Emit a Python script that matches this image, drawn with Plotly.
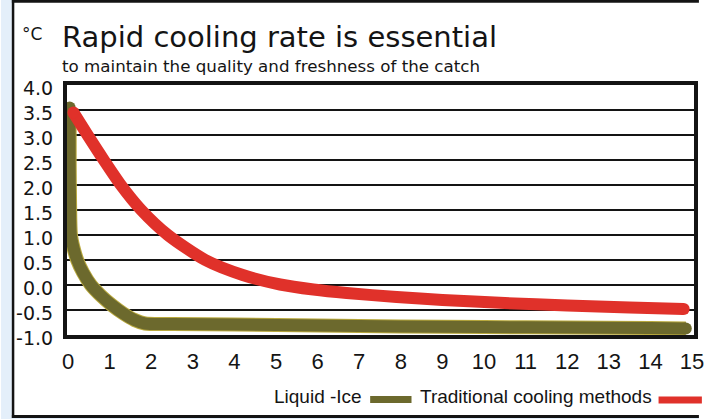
import plotly.graph_objects as go

# ---------------- data ----------------
unit_label = "°C"
title_text = "Rapid cooling rate is essential"
subtitle_text = "to maintain the quality and freshness of the catch"

x_tick_values = list(range(0, 16))
y_tick_values = [4.0, 3.5, 3.0, 2.5, 2.0, 1.5, 1.0, 0.5, 0.0, -0.5, -1.0]
y_tick_labels = ["4.0", "3.5", "3.0", "2.5", "2.0", "1.5", "1.0", "0.5", "0.0", "-0.5", "-1.0"]

liquid_ice_name = "Liquid -Ice"
liquid_ice_x = [0.04, 0.04, 0.05, 0.07, 0.13, 0.22, 0.36, 0.55, 0.8, 1.05, 1.33, 1.6, 1.85,
                2.5, 4.0, 6.0, 8.0, 10.0, 12.0, 14.0, 14.85]
liquid_ice_y = [3.55, 2.5, 1.6, 1.0, 0.75, 0.5, 0.25, 0.0, -0.22, -0.4, -0.57, -0.70, -0.77,
                -0.78, -0.79, -0.81, -0.83, -0.84, -0.85, -0.86, -0.87]

traditional_name = "Traditional cooling methods"
traditional_x = [0.13, 0.47, 0.86, 1.27, 1.76, 2.4, 3.3, 4.2, 5.1, 5.9, 6.7, 7.9, 9.0,
                 10.5, 12.0, 13.5, 14.8]
traditional_y = [3.45, 3.0, 2.5, 2.0, 1.5, 1.0, 0.5, 0.2, 0.01, -0.09, -0.16, -0.24, -0.30,
                 -0.36, -0.41, -0.45, -0.48]

# ---------------- styles ----------------
W, H = 709, 419
L, R, T, B = 67, 5, 85, 84
PW, PH = W - L - R, H - T - B
OLIVE = "#6c692d"
OLIVE_EDGE = "#b9a93e"
RED = "#e0312a"
BLUE_BG = "#e4effa"
INK = "#141414"


def px(xp):
    return (xp - L) / PW


def py(yp):
    return (H - B - yp) / PH


fig = go.Figure()

# Liquid-ice curve (edge underlay + main)
fig.add_trace(go.Scatter(x=liquid_ice_x, y=liquid_ice_y, mode="lines",
                         line=dict(color=OLIVE_EDGE, width=14, shape="spline", smoothing=0.7),
                         hoverinfo="skip", showlegend=False))
fig.add_trace(go.Scatter(x=liquid_ice_x, y=liquid_ice_y, mode="lines",
                         line=dict(color=OLIVE, width=12, shape="spline", smoothing=0.7),
                         name=liquid_ice_name, showlegend=False))
fig.add_trace(go.Scatter(x=[liquid_ice_x[0], liquid_ice_x[-1]], y=[liquid_ice_y[0], liquid_ice_y[-1]],
                         mode="markers", marker=dict(color=OLIVE, size=12, line=dict(width=0)),
                         hoverinfo="skip", showlegend=False, cliponaxis=False))

# Traditional curve
fig.add_trace(go.Scatter(x=traditional_x, y=traditional_y, mode="lines",
                         line=dict(color=RED, width=12, shape="spline", smoothing=0.7),
                         name=traditional_name, showlegend=False))
fig.add_trace(go.Scatter(x=[traditional_x[0], traditional_x[-1]], y=[traditional_y[0], traditional_y[-1]],
                         mode="markers", marker=dict(color=RED, size=12, line=dict(width=0)),
                         hoverinfo="skip", showlegend=False, cliponaxis=False))

shapes = [
    # light blue strips outside the frame
    dict(type="rect", xref="paper", yref="paper", x0=px(0), x1=px(11.5), y0=py(0), y1=py(H),
         fillcolor=BLUE_BG, line=dict(width=0), layer="below"),
    dict(type="rect", xref="paper", yref="paper", x0=px(0), x1=px(W), y0=py(418), y1=py(H),
         fillcolor=BLUE_BG, line=dict(width=0), layer="below"),
    # outer frame
    dict(type="line", xref="paper", yref="paper", x0=px(12.2), x1=px(12.2), y0=py(0), y1=py(418),
         line=dict(color=INK, width=2.5)),
    dict(type="line", xref="paper", yref="paper", x0=px(11), x1=px(W), y0=py(1.3), y1=py(1.3),
         line=dict(color=INK, width=2.7)),
    dict(type="line", xref="paper", yref="paper", x0=px(11), x1=px(W), y0=py(416.5), y1=py(416.5),
         line=dict(color=INK, width=3)),
    # legend swatches
    dict(type="line", xref="paper", yref="paper", x0=px(375), x1=px(417), y0=py(399.5), y1=py(399.5),
         line=dict(color=OLIVE, width=7)),
    dict(type="line", xref="paper", yref="paper", x0=px(668), x1=px(712), y0=py(400), y1=py(400),
         line=dict(color=RED, width=7)),
]

annotations = [
    dict(text=unit_label, xref="paper", yref="paper", x=px(19), y=py(34), xanchor="left",
         yanchor="middle", showarrow=False, font=dict(family="DejaVu Sans", size=17, color=INK)),
    dict(text=title_text, xref="paper", yref="paper", x=px(60), y=py(36.5), xanchor="left",
         yanchor="middle", showarrow=False, font=dict(family="DejaVu Sans", size=29, color=INK)),
    dict(text=subtitle_text, xref="paper", yref="paper", x=px(60), y=py(66), xanchor="left",
         yanchor="middle", showarrow=False, font=dict(family="DejaVu Sans", size=16.7, color=INK)),
    dict(text=liquid_ice_name, xref="paper", yref="paper", x=px(275), y=py(396.7), xanchor="left",
         yanchor="middle", showarrow=False, font=dict(family="Liberation Sans", size=19, color=INK)),
    dict(text=traditional_name, xref="paper", yref="paper", x=px(424), y=py(396.7), xanchor="left",
         yanchor="middle", showarrow=False, font=dict(family="Liberation Sans", size=19, color=INK)),
]

fig.update_layout(
    width=W, height=H,
    margin=dict(l=L, r=R, t=T, b=B, pad=0),
    paper_bgcolor="white", plot_bgcolor="white",
    showlegend=False,
    shapes=shapes, annotations=annotations,
    xaxis=dict(range=[-0.024, 15.047], tickmode="array", tickvals=x_tick_values,
               ticktext=[str(v) for v in x_tick_values], showgrid=False, zeroline=False,
               showline=True, linecolor=INK, linewidth=4, mirror=True, ticks="",
               ticklabelstandoff=4, ticklabeloverflow="allow",
               tickfont=dict(family="Liberation Sans", size=22, color=INK)),
    yaxis=dict(range=[-1.0, 4.0], tickmode="array", tickvals=y_tick_values, ticktext=y_tick_labels,
               showgrid=True, gridcolor=INK, gridwidth=2, zeroline=False,
               showline=True, linecolor=INK, linewidth=4, mirror=True, ticks="",
               ticklabelstandoff=6, ticklabelshift=3,
               tickfont=dict(family="DejaVu Sans", size=19, color=INK)),
)

fig.write_html("out.html", config={"displayModeBar": False},
               post_script="document.body.style.margin='0px';")
